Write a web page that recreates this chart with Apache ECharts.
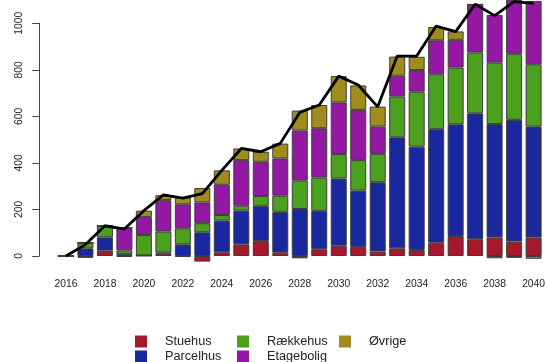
<!DOCTYPE html>
<html>
<head>
<meta charset="utf-8">
<script src="https://cdn.jsdelivr.net/npm/echarts@6/dist/echarts.min.js"></script>
<style>
html,body{margin:0;padding:0;background:#fff;}
#chart{width:548px;height:362px;}
</style>
</head>
<body>
<div id="chart"></div>
<script>
const years = ['2016','2017','2018','2019','2020','2021','2022','2023','2024','2025','2026','2027','2028','2029','2030','2031','2032','2033','2034','2035','2036','2037','2038','2039','2040'];
const stuehus    = [0, -8, 23, -3, 2, 10, -3, -24, 16, 50, 64, 14, -10, 29, 44, 39, 19, 33, 26, 57, 86, 72, 80, 62, 80];
const parcelhus  = [0, 33, 57, 8, 0, 5, 50, 102, 136, 145, 152, 176, 202, 165, 289, 242, 298, 477, 444, 488, 480, 541, 487, 523, 476];
const raekkehus  = [0, 24, 50, 16, 88, 90, 69, 39, 24, 21, 42, 69, 122, 143, 105, 132, 122, 175, 236, 236, 244, 262, 264, 284, 268];
const etagebolig = [0, 0, 0, 97, 77, 135, 103, 89, 130, 196, 147, 160, 215, 212, 222, 215, 117, 90, 93, 146, 119, 206, 205, 232, 272];
const ovrige     = [0, 0, 0, 0, 28, 21, 29, 62, 62, 50, 43, 64, 86, 100, 113, 105, 86, 82, 57, 57, 36, 0, -10, -8, -12];
const total      = [0, 49, 130, 116, 195, 263, 249, 268, 368, 462, 448, 484, 617, 649, 773, 735, 641, 859, 859, 988, 964, 1082, 1033, 1093, 1086];
const yTicks = [0, 200, 400, 600, 800, 1000];

const colors = {
  'Stuehus': '#A5192D',
  'Parcelhus': '#1A28A0',
  'Rækkehus': '#4BA01E',
  'Etagebolig': '#9418A3',
  'Øvrige': '#A08C1C'
};
const seriesData = [
  ['Stuehus', stuehus],
  ['Parcelhus', parcelhus],
  ['Rækkehus', raekkehus],
  ['Etagebolig', etagebolig],
  ['Øvrige', ovrige]
];
const font = 'Liberation Sans, Arial, sans-serif';

const chart = echarts.init(document.getElementById('chart'), null, {renderer: 'canvas'});
const barSeries = seriesData.map(([name, data]) => ({
  name: name,
  type: 'bar',
  stack: 'total',
  data: data,
  barWidth: 16,
  clip: false,
  animation: false,
  itemStyle: {color: colors[name], borderColor: '#3c3c3c', borderWidth: 1}
}));

function legendItem(left, top, name) {
  return {
    orient: 'horizontal',
    left: left,
    top: top,
    itemWidth: 12,
    itemHeight: 12,
    padding: 0,
    icon: 'rect',
    itemStyle: {borderWidth: 0},
    textStyle: {fontFamily: font, fontSize: 12.7, color: '#222', padding: [0, 0, 0, 13]},
    data: [name]
  };
}

chart.setOption({
  animation: false,
  backgroundColor: '#fff',
  grid: {left: 56.2, right: 2.2, top: 23.3, bottom: 106},
  legend: [
    legendItem(135, 335, 'Stuehus'),
    legendItem(135, 350, 'Parcelhus'),
    legendItem(237, 335, 'Rækkehus'),
    legendItem(237, 350, 'Etagebolig'),
    legendItem(339, 335, 'Øvrige')
  ],
  xAxis: {
    type: 'category',
    data: years,
    boundaryGap: true,
    axisLine: {show: false},
    axisTick: {show: false},
    axisLabel: {interval: 1, margin: 23, fontFamily: font, fontSize: 10.3, color: '#222'}
  },
  yAxis: {
    type: 'value',
    min: 0,
    max: 1000,
    interval: 200,
    offset: 17,
    splitLine: {show: false},
    axisLine: {show: true, lineStyle: {color: '#444', width: 1}},
    axisTick: {show: true, length: 7, lineStyle: {color: '#444'}},
    axisLabel: {rotate: 90, margin: 15, fontFamily: font, fontSize: 10.3, color: '#222',
      formatter: v => yTicks.includes(v) ? String(v) : ''}
  },
  series: barSeries.concat([{
    name: 'Total',
    type: 'line',
    data: total,
    symbol: 'none',
    clip: false,
    z: 10,
    animation: false,
    lineStyle: {color: '#000', width: 2.8}
  }])
});
</script>
</body>
</html>
